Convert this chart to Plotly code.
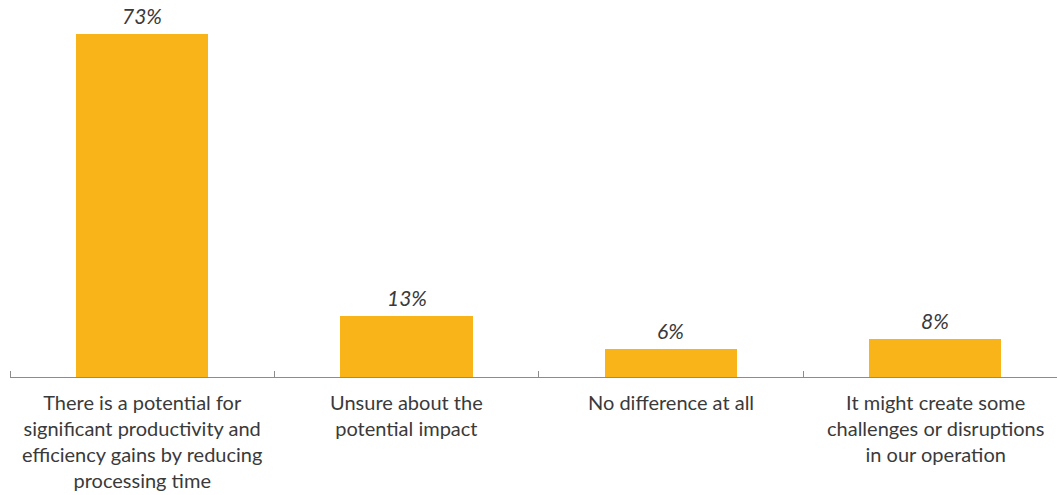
import plotly.graph_objects as go

# Survey responses and their shares (%)
categories = [
    "There is a potential for<br>significant productivity and<br>efficiency gains by reducing<br>processing time",
    "Unsure about the<br>potential impact",
    "No difference at all",
    "It might create some<br>challenges or disruptions<br>in our operation",
]
shares = [73, 13, 6, 8]
value_labels = [f"{v}%" for v in shares]

positions = list(range(len(categories)))
boundaries = [p - 0.5 for p in positions]

bar_color = "#F9B41A"
text_color = "#3A3A3A"
font_family = "Lato, 'Open Sans', sans-serif"

fig = go.Figure(
    go.Bar(
        x=positions,
        y=shares,
        width=0.5,
        marker=dict(color=bar_color, line=dict(width=0)),
        hoverinfo="skip",
    )
)

# Value labels above each bar
for pos, val, txt in zip(positions, shares, value_labels):
    fig.add_annotation(
        x=pos,
        y=val,
        xref="x",
        yref="y",
        text=txt,
        showarrow=False,
        xanchor="center",
        yanchor="bottom",
        yshift=4,
        font=dict(family=font_family, size=21, color=text_color, style="italic", weight=400),
    )

# Category labels under each bar
for pos, label in zip(positions, categories):
    fig.add_annotation(
        x=pos,
        y=0,
        xref="x",
        yref="y",
        text=label,
        showarrow=False,
        xanchor="center",
        yanchor="top",
        yshift=-11,
        align="center",
        font=dict(family=font_family, size=20, color=text_color, weight=400),
    )

fig.update_layout(
    width=1057,
    height=495,
    margin=dict(l=10, r=0, t=1, b=118),
    paper_bgcolor="white",
    plot_bgcolor="white",
    showlegend=False,
    bargap=0,
    xaxis=dict(
        range=[-0.5, 3.46],
        tickvals=positions,
        ticktext=[""] * len(positions),
        ticks="",
        showgrid=False,
        zeroline=False,
        showline=True,
        linecolor="#8C8C8C",
        linewidth=1,
        minor=dict(
            tickvals=boundaries,
            ticks="inside",
            ticklen=6,
            tickcolor="#8C8C8C",
            tickwidth=1,
            showgrid=False,
        ),
    ),
    yaxis=dict(
        range=[0, 80],
        showticklabels=False,
        showgrid=False,
        zeroline=False,
        showline=False,
        ticks="",
    ),
)

fig.write_html("out.html")
